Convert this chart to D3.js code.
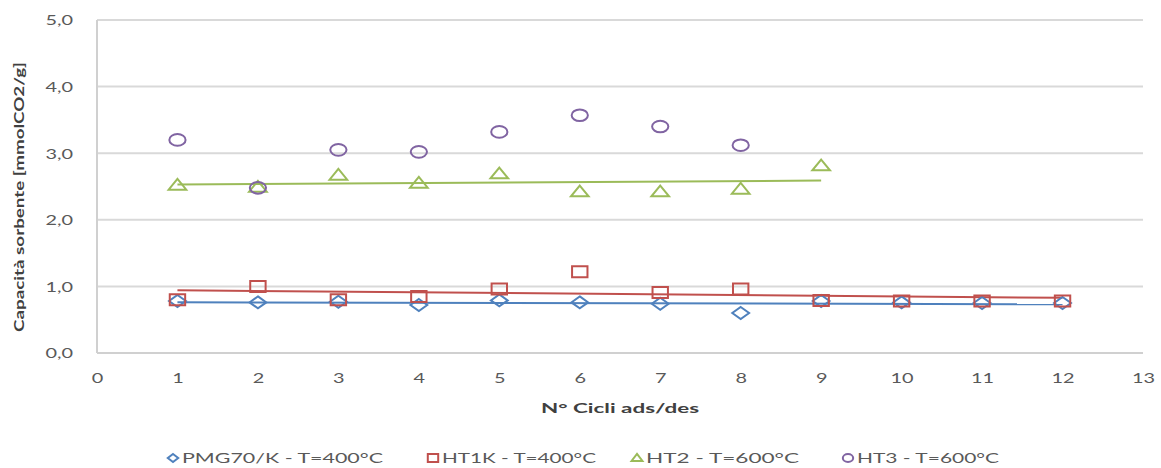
<!DOCTYPE html>
<html>
<head>
<meta charset="utf-8">
<script src="https://cdn.jsdelivr.net/npm/d3@7"></script>
<style>
  html, body { margin: 0; padding: 0; background: #fff; }
  svg { display: block; }
  text { font-family: Lato, "Open Sans", sans-serif; }
</style>
</head>
<body>
<svg id="chart" width="1161" height="468"></svg>
<script>
// ---- data ----
const cycles = [1, 2, 3, 4, 5, 6, 7, 8, 9, 10, 11, 12];
const pmg70k = [0.78, 0.76, 0.77, 0.72, 0.79, 0.76, 0.74, 0.60, 0.78, 0.76, 0.75, 0.75];
const ht1k   = [0.80, 1.00, 0.80, 0.85, 0.96, 1.22, 0.91, 0.96, 0.79, 0.78, 0.78, 0.78];
const ht2    = [2.52, 2.49, 2.67, 2.55, 2.69, 2.42, 2.42, 2.46, 2.81];
const ht3    = [3.20, 2.48, 3.05, 3.02, 3.32, 3.57, 3.40, 3.12];
const seriesNames = ["PMG70/K - T=400°C", "HT1K - T=400°C", "HT2 -  T=600°C", "HT3 - T=600°C"];
const xTicks = [0, 1, 2, 3, 4, 5, 6, 7, 8, 9, 10, 11, 12, 13];
const yTicks = [0, 1, 2, 3, 4, 5];
const xTitle = "N° Cicli ads/des";
const yTitle = "Capacità sorbente [mmolCO2/g]";

const colors = ["#4F81BD", "#C0504D", "#9BBB59", "#8064A2"];
const shapes = ["diamond", "square", "triangle", "circle"];
const trend  = [true, true, true, false];
const allSeries = [pmg70k, ht1k, ht2, ht3];

const svg = d3.select("#chart");
const SX = 1.42; // horizontal stretch of the reference rendering

const x = d3.scaleLinear().domain([0, 13]).range([97, 1143]);
const y = d3.scaleLinear().domain([0, 5]).range([353, 20]);

// gridlines
svg.append("g").selectAll("line").data(yTicks.filter(d => d > 0)).join("line")
  .attr("x1", x(0)).attr("x2", x(13))
  .attr("y1", d => y(d)).attr("y2", d => y(d))
  .attr("stroke", "#d9d9d9").attr("stroke-width", 2);

// axes lines
svg.append("line").attr("x1", x(0)).attr("x2", x(13)).attr("y1", y(0)).attr("y2", y(0))
  .attr("stroke", "#d0d0d0").attr("stroke-width", 2);
svg.append("line").attr("x1", x(0)).attr("x2", x(0)).attr("y1", y(0)).attr("y2", y(5))
  .attr("stroke", "#d0d0d0").attr("stroke-width", 2);

// axes via d3
const fmt = d => d3.format(".1f")(d).replace(".", ",");
const yAxis = svg.append("g").attr("transform", `translate(${x(0)},0)`)
  .call(d3.axisLeft(y).tickValues(yTicks).tickFormat(fmt).tickSize(0).tickPadding(0));
yAxis.select(".domain").remove();
yAxis.selectAll("text")
  .attr("x", 0).attr("dy", "0.35em")
  .attr("transform", `translate(-24,0) scale(${SX},1)`)
  .attr("fill", "#595959").style("font-size", "14px");

const xAxis = svg.append("g").attr("transform", `translate(0,${y(0)})`)
  .call(d3.axisBottom(x).tickValues(xTicks).tickFormat(d3.format("d")).tickSize(0).tickPadding(0));
xAxis.select(".domain").remove();
xAxis.selectAll("text")
  .attr("y", 0).attr("dy", null)
  .attr("transform", `translate(0,30) scale(${SX},1)`)
  .attr("fill", "#595959").style("font-size", "14px");

// axis titles
svg.append("text")
  .attr("x", 620).attr("y", 413)
  .attr("text-anchor", "middle")
  .attr("textLength", 158).attr("lengthAdjust", "spacingAndGlyphs")
  .style("font-size", "14px").style("font-weight", "bold").attr("fill", "#404040")
  .text(xTitle);
svg.append("text")
  .attr("transform", "translate(24,197) rotate(-90)")
  .attr("text-anchor", "middle")
  .attr("textLength", 270).attr("lengthAdjust", "spacingAndGlyphs")
  .style("font-size", "14px").style("font-weight", "bold").attr("fill", "#404040")
  .text(yTitle);

// marker path generator (unit shapes, later stretched)
function markerPath(shape, r) {
  switch (shape) {
    case "diamond": return `M0,${-r}L${r},0L0,${r}L${-r},0Z`;
    case "square": return `M${-r},${-r}H${r}V${r}H${-r}Z`;
    case "triangle": return `M0,${-r*1.05}L${r*1.05},${r*0.75}L${-r*1.05},${r*0.75}Z`;
    case "circle": return `M${-r},0A${r},${r} 0 1,0 ${r},0A${r},${r} 0 1,0 ${-r},0Z`;
  }
}

// linear regression for trend lines
function fit(vals) {
  const xs = vals.map((_, i) => cycles[i]);
  const mx = d3.mean(xs), my = d3.mean(vals);
  let num = 0, den = 0;
  xs.forEach((xv, i) => { num += (xv - mx) * (vals[i] - my); den += (xv - mx) ** 2; });
  const b = num / den, a = my - b * mx;
  return [xs[0], xs[xs.length - 1]].map(xv => [xv, a + b * xv]);
}

const line = d3.line().x(d => x(d[0])).y(d => y(d[1]));

// trend lines first
allSeries.forEach((vals, si) => {
  if (!trend[si]) return;
  svg.append("path").attr("d", line(fit(vals)))
    .attr("fill", "none").attr("stroke", colors[si]).attr("stroke-width", 2);
});

// markers
allSeries.forEach((vals, si) => {
  const r = shapes[si] === "square" ? 5.5 : (shapes[si] === "circle" ? 5.8 : 6);
  svg.append("g").selectAll("path").data(vals).join("path")
    .attr("d", markerPath(shapes[si], r))
    .attr("transform", (d, i) => `translate(${x(cycles[i])},${y(d)}) scale(1.4,1)`)
    .attr("fill", "none").attr("stroke", colors[si]).attr("stroke-width", 2)
    .attr("vector-effect", "non-scaling-stroke");
});

// legend
const legendMarkX = [173, 433, 637, 848];
const legendTextLen = [201, 154, 153, 142];
const ly = 458;
seriesNames.forEach((name, si) => {
  svg.append("path")
    .attr("d", markerPath(shapes[si], 4))
    .attr("transform", `translate(${legendMarkX[si]},${ly}) scale(1.3,1)`)
    .attr("fill", "none").attr("stroke", colors[si]).attr("stroke-width", 2)
    .attr("vector-effect", "non-scaling-stroke");
  svg.append("text")
    .attr("x", legendMarkX[si] + 9).attr("y", ly + 5)
    .attr("textLength", legendTextLen[si]).attr("lengthAdjust", "spacingAndGlyphs")
    .style("font-size", "14px").attr("fill", "#595959")
    .text(name);
});
</script>
</body>
</html>
